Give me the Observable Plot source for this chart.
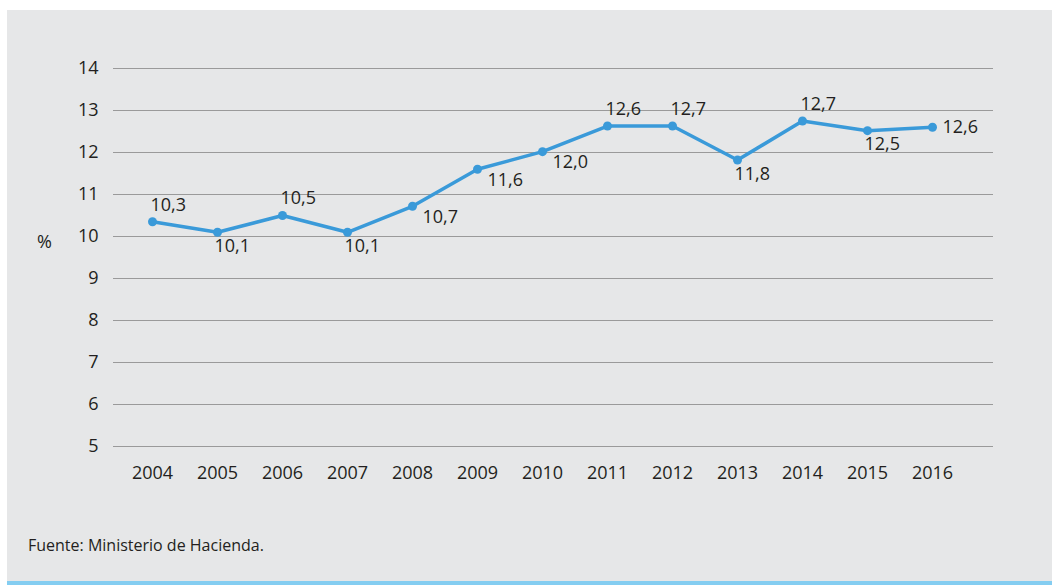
<!DOCTYPE html>
<html>
<head>
<meta charset="utf-8">
<script src="https://cdn.jsdelivr.net/npm/d3@7"></script>
<script src="https://cdn.jsdelivr.net/npm/@observablehq/plot@0.6"></script>
<style>
  html, body { margin: 0; padding: 0; background: #ffffff; }
  body { width: 1052px; height: 585px; position: relative; overflow: hidden; font-family: "Open Sans", sans-serif; }
  #panel { position: absolute; left: 7px; top: 10px; width: 1045px; height: 571px; background: #e6e7e8; }
  #bar { position: absolute; left: 7px; top: 581px; width: 1045px; height: 4px; background: #84cdf1; }
  #chart { position: absolute; left: 0; top: 0; }
  #unit { position: absolute; left: 30px; top: 219px; font-size: 18px; color: #231f20; }
  #source { position: absolute; left: 21px; top: 524px; font-size: 16px; color: #231f20; }
</style>
</head>
<body>
<div id="panel">
  <div id="chart"></div>
  <div id="unit">%</div>
  <div id="source">Fuente: Ministerio de Hacienda.</div>
</div>
<div id="bar"></div>
<script>
const years = ["2004","2005","2006","2007","2008","2009","2010","2011","2012","2013","2014","2015","2016"];
const values = [10.35, 10.1, 10.5, 10.1, 10.72, 11.6, 12.02, 12.63, 12.63, 11.82, 12.75, 12.52, 12.6];
const labels = ["10,3","10,1","10,5","10,1","10,7","11,6","12,0","12,6","12,7","11,8","12,7","12,5","12,6"];
const yTicks = [5, 6, 7, 8, 9, 10, 11, 12, 13, 14];

const data = years.map((year, i) => ({year, value: values[i], label: labels[i]}));

// label placement groups (styling only)
const above = new Set(["2004","2006","2011","2012","2014"]);
const below = new Set(["2005","2007","2013","2015"]);
const belowRight = new Set(["2008","2009","2010"]);
const right = new Set(["2016"]);

const ink = "#231f20";
const blue = "#3a9ad9";

const textOpts = {x: "year", y: "value", text: "label", fontSize: 18, fill: ink, textAnchor: "start"};

const chart = Plot.plot({
  width: 1045,
  height: 480,
  marginLeft: 106,
  marginRight: 59,
  marginTop: 58,
  marginBottom: 44,
  style: {fontFamily: "Open Sans, sans-serif", fontSize: "18px", color: ink, background: "transparent"},
  x: {type: "point", domain: years, padding: 0, insetLeft: 35, insetRight: 58, label: null},
  y: {domain: [5, 14], label: null},
  marks: [
    Plot.ruleY(yTicks, {stroke: "#9a9a9a", strokeWidth: 1}),
    Plot.axisY(yTicks, {tickSize: 0, tickPadding: 15, label: null, fontSize: 18, fill: ink}),
    Plot.axisX({tickSize: 0, tickPadding: 20, label: null, fontSize: 18, fill: ink}),
    Plot.line(data, {x: "year", y: "value", stroke: blue, strokeWidth: 3.5}),
    Plot.dot(data, {x: "year", y: "value", fill: blue, r: 4.5}),
    Plot.text(data.filter(d => above.has(d.year)), {...textOpts, dx: -2, dy: -17}),
    Plot.text(data.filter(d => below.has(d.year)), {...textOpts, dx: -3, dy: 14}),
    Plot.text(data.filter(d => belowRight.has(d.year)), {...textOpts, dx: 10, dy: 11}),
    Plot.text(data.filter(d => right.has(d.year)), {...textOpts, dx: 10, dy: 0})
  ]
});
document.getElementById("chart").appendChild(chart);
</script>
</body>
</html>
